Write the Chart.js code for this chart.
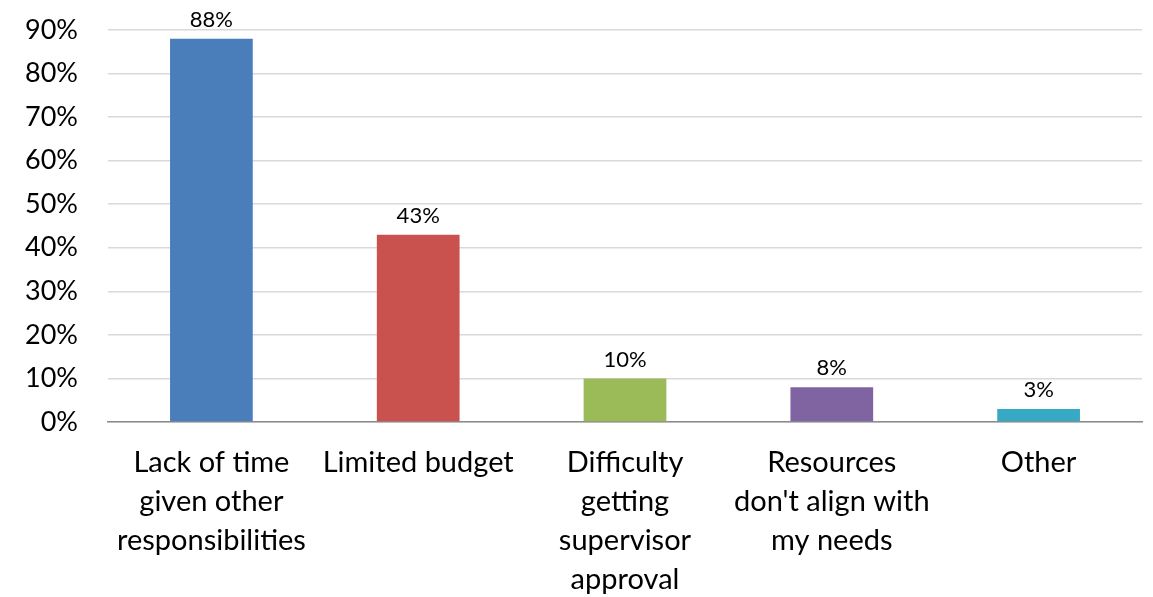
<!DOCTYPE html>
<html>
<head>
<meta charset="utf-8">
<script src="https://cdn.jsdelivr.net/npm/chart.js@4"></script>
<style>
  html, body { margin: 0; padding: 0; background: #fff; }
  #wrap { width: 1153px; height: 597px; }
</style>
</head>
<body>
<div id="wrap"><canvas id="chart"></canvas></div>
<script>
var categories = [
  ["Lack of time", "given other", "responsibilities"],
  "Limited budget",
  ["Difficulty", "getting", "supervisor", "approval"],
  ["Resources", "don't align with", "my needs"],
  "Other"
];
var values = [88, 43, 10, 8, 3];
var barColors = ["#4a7ebb", "#c9524f", "#9bbb59", "#8064a2", "#37a9c4"];

// percent labels above each bar
var valueLabels = {
  id: "valueLabels",
  afterDatasetsDraw: function (chart) {
    var ctx = chart.ctx;
    var meta = chart.getDatasetMeta(0);
    ctx.save();
    ctx.font = "22px Lato";
    ctx.fillStyle = "#000";
    ctx.textAlign = "center";
    ctx.textBaseline = "bottom";
    meta.data.forEach(function (bar, i) {
      ctx.fillText(values[i] + "%", bar.x, bar.y - 8);
    });
    ctx.restore();
  }
};

var ctx = document.getElementById("chart").getContext("2d");
var chart = new Chart(ctx, {
  type: "bar",
  data: {
    labels: categories,
    datasets: [{
      data: values,
      backgroundColor: barColors,
      barPercentage: 0.4,
      categoryPercentage: 1
    }]
  },
  options: {
    responsive: true,
    maintainAspectRatio: false,
    animation: false,
    layout: { padding: { top: 30, right: 11, left: 0, bottom: 0 } },
    plugins: { legend: { display: false }, tooltip: { enabled: false } },
    scales: {
      x: {
        grid: { display: false },
        border: { color: "#8c8c8c", width: 1.5 },
        ticks: {
          color: "#000",
          font: { family: "Lato", size: 29, lineHeight: 1.35 },
          maxRotation: 0,
          autoSkip: false,
          padding: 13
        },
        afterFit: function (scale) {
          scale.height = 175;
          scale.paddingLeft = 0;
          scale.paddingRight = 0;
        }
      },
      y: {
        min: 0,
        max: 90,
        grid: { color: "#d9d9d9", lineWidth: 1.5, drawTicks: false },
        border: { display: false },
        ticks: {
          stepSize: 10,
          color: "#000",
          font: { family: "Lato", size: 27 },
          padding: 30,
          callback: function (v) { return v + "%"; }
        },
        afterFit: function (scale) {
          scale.width = 108;
          scale.paddingTop = 0;
          scale.paddingBottom = 0;
        }
      }
    }
  },
  plugins: [valueLabels]
});
</script>
</body>
</html>
